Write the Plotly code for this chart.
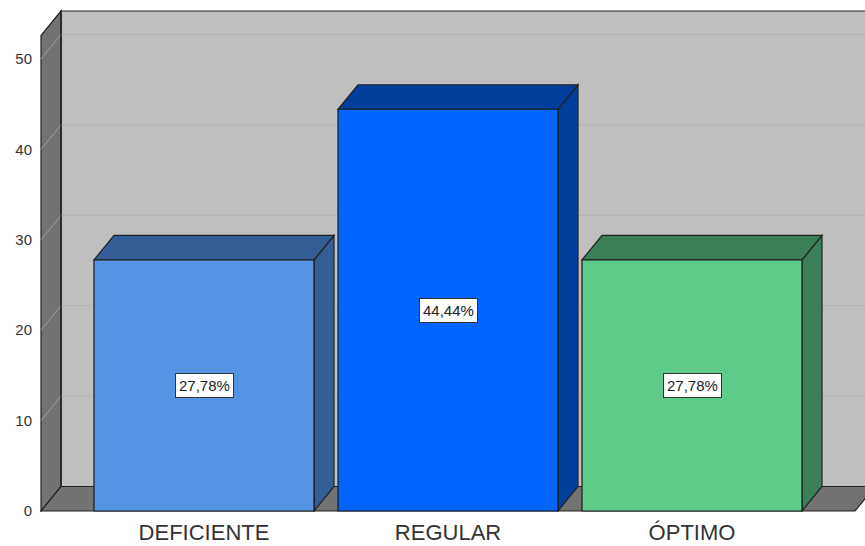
import plotly.graph_objects as go

categories = ["DEFICIENTE", "REGULAR", "ÓPTIMO"]
values = [27.78, 44.44, 27.78]
front_colors = ["#5594E3", "#0066FF", "#5FCB8B"]
side_colors = ["#335E96", "#003F9C", "#3A7F57"]
y_ticks = [0, 10, 20, 30, 40, 50]

# scale helpers (pixels per data unit)
PX_X = 244.0
PX_Y = 9.04
DX = 20 / PX_X       # oblique depth in x units
DY = 24.5 / PX_Y     # oblique depth in y units
BAR_W = 220 / PX_X

X_MIN_WALL = -163 / PX_X
X_MAX_FLOOR = 651 / PX_X
Y_TOP_WALL = 52.6

def path(pts):
    return "M " + " L ".join(f"{x},{y}" for x, y in pts) + " Z"

def poly(pts, fill, line="#222222", width=1.2):
    return dict(type="path", xref="x", yref="y", layer="below", path=path(pts),
                fillcolor=fill, line=dict(color=line, width=width))

shapes = []
# back wall, left wall, floor
shapes.append(poly([(X_MIN_WALL + DX, DY), (X_MAX_FLOOR + DX, DY), (X_MAX_FLOOR + DX, Y_TOP_WALL + DY),
                    (X_MIN_WALL + DX, Y_TOP_WALL + DY)], "#BFBFBF"))
shapes.append(poly([(X_MIN_WALL, 0), (X_MIN_WALL + DX, DY), (X_MIN_WALL + DX, Y_TOP_WALL + DY),
                    (X_MIN_WALL, Y_TOP_WALL)], "#737373"))
shapes.append(poly([(X_MIN_WALL, 0), (X_MAX_FLOOR, 0), (X_MAX_FLOOR + DX, DY), (X_MIN_WALL + DX, DY)],
                   "#737373"))
# grid lines on left wall and back wall
for t in y_ticks[1:]:
    shapes.append(dict(type="line", xref="x", yref="y", layer="below",
                       x0=X_MIN_WALL, y0=t, x1=X_MIN_WALL + DX, y1=t + DY,
                       line=dict(color="#A0A0A0", width=1)))
    shapes.append(dict(type="line", xref="x", yref="y", layer="below",
                       x0=X_MIN_WALL + DX, y0=t + DY, x1=X_MAX_FLOOR + DX, y1=t + DY,
                       line=dict(color="#B2B2B2", width=1)))
# redraw the wall corner edge over the grid lines
shapes.append(dict(type="line", xref="x", yref="y", layer="below",
                   x0=X_MIN_WALL + DX, y0=DY, x1=X_MIN_WALL + DX, y1=Y_TOP_WALL + DY,
                   line=dict(color="#222222", width=1.2)))
# bar depth faces
for i, v in enumerate(values):
    l, r = i - BAR_W / 2, i + BAR_W / 2
    shapes.append(poly([(r, 0), (r + DX, DY), (r + DX, v + DY), (r, v)], side_colors[i]))
    shapes.append(poly([(l, v), (r, v), (r + DX, v + DY), (l + DX, v + DY)], side_colors[i]))

fig = go.Figure(go.Bar(
    x=list(range(len(categories))), y=values, width=BAR_W,
    marker=dict(color=front_colors, line=dict(color="#1c1c1c", width=1.2)),
    hoverinfo="skip"))

annotations = [dict(x=i, y=v / 2, xref="x", yref="y", showarrow=False,
                    text=f"{v:.2f}".replace(".", ",") + "%",
                    font=dict(family="Liberation Sans", size=15, color="#222222"),
                    bgcolor="white", bordercolor="#333333", borderwidth=1, borderpad=3)
               for i, v in enumerate(values)]

fig.update_layout(
    width=865, height=546, autosize=False,
    margin=dict(l=36, r=0, t=6, b=34),
    paper_bgcolor="white", plot_bgcolor="white",
    shapes=shapes, annotations=annotations, showlegend=False,
    font=dict(family="Liberation Sans", color="#333333"),
    xaxis=dict(range=[(36 - 204) / PX_X, (865 - 204) / PX_X], tickmode="array",
               tickvals=list(range(len(categories))), ticktext=categories,
               tickfont=dict(size=22, color="#333333"), showgrid=False, zeroline=False,
               showline=False, ticks="outside", ticklen=1, tickcolor="rgba(0,0,0,0)"),
    yaxis=dict(range=[-1 / PX_Y, 505 / PX_Y], tickmode="array", tickvals=y_ticks,
               tickfont=dict(size=15, color="#333333"), showgrid=False, zeroline=False,
               showline=False, ticks="", ticklen=0, ticklabelstandoff=3),
)
fig.write_html("out.html", config={"displayModeBar": False},
               post_script="document.body.style.margin='0';document.body.style.overflow='hidden';")
